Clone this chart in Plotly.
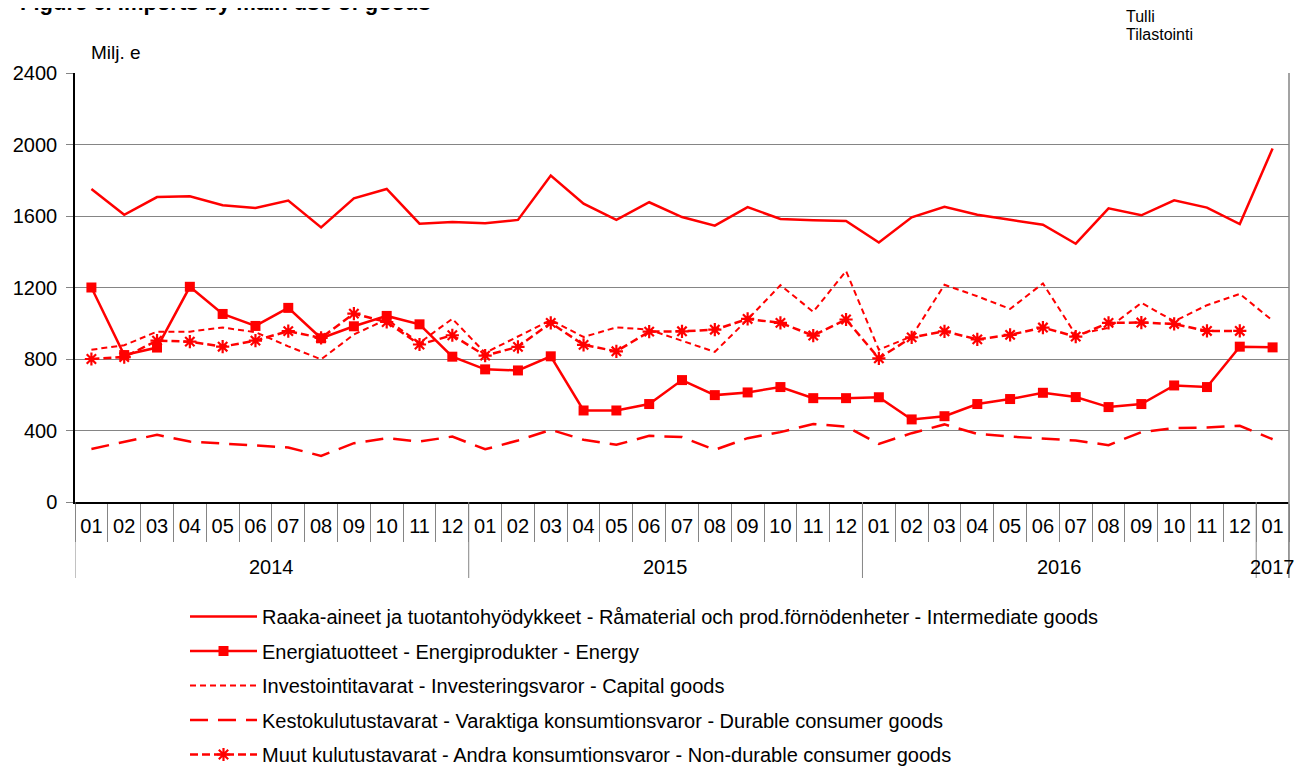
import plotly.graph_objects as go

years = ["2014"] * 12 + ["2015"] * 12 + ["2016"] * 12 + ["2017"]
months = ["01", "02", "03", "04", "05", "06", "07", "08", "09", "10", "11", "12",
          "01", "02", "03", "04", "05", "06", "07", "08", "09", "10", "11", "12",
          "01", "02", "03", "04", "05", "06", "07", "08", "09", "10", "11", "12",
          "01"]

intermediate = [1751, 1607, 1706, 1710, 1660, 1645, 1686, 1536, 1699, 1751, 1557, 1566,
                1559, 1578, 1826, 1669, 1579, 1677, 1594, 1546, 1650, 1583, 1576, 1572,
                1452, 1593, 1652, 1607, 1579, 1551, 1445, 1643, 1604, 1688, 1647, 1555,
                1978]
energy = [1200, 822, 864, 1204, 1052, 985, 1086, 916, 983, 1041, 994, 813,
          742, 736, 815, 512, 512, 548, 682, 598, 613, 643, 581, 581,
          586, 462, 480, 548, 576, 611, 587, 531, 548, 652, 643, 869,
          865]
capital = [852, 877, 953, 953, 976, 950, 871, 798, 937, 1022, 890, 1025,
           834, 925, 1018, 923, 977, 964, 900, 840, 1021, 1213, 1064, 1292,
           852, 927, 1215, 1151, 1080, 1223, 936, 974, 1114, 1011, 1101, 1164,
           1015]
durable = [297, 338, 376, 338, 329, 316, 305, 258, 329, 357, 338, 366,
           295, 344, 404, 348, 320, 370, 363, 292, 357, 391, 436, 422,
           325, 385, 434, 381, 366, 355, 344, 318, 391, 413, 417, 426,
           351]
nondurable = [800, 811, 903, 897, 869, 903, 956, 918, 1054, 1007, 881, 933,
              819, 868, 1002, 879, 843, 953, 955, 964, 1024, 1002, 931, 1021,
              804, 921, 955, 910, 935, 976, 925, 1002, 1004, 996, 957, 957,
              None]

names = [
    "Raaka-aineet ja tuotantohyödykkeet - Råmaterial och prod.förnödenheter - Intermediate goods",
    "Energiatuotteet - Energiprodukter - Energy",
    "Investointitavarat - Investeringsvaror - Capital goods",
    "Kestokulutustavarat - Varaktiga konsumtionsvaror - Durable consumer goods",
    "Muut kulutustavarat - Andra konsumtionsvaror - Non-durable consumer goods",
]
yticks = [0, 400, 800, 1200, 1600, 2000, 2400]

RED = "#ff0000"
GRAY = "#858585"
FONT = "Liberation Sans, Arial, sans-serif"

# page offset (browser body margin) compensation
OFF = 8
W, H = 1307 - OFF, 767 - OFF
PLOT_L, PLOT_R, PLOT_T, PLOT_B = 75, 1289, 73, 502   # target page pixels
PLOT_W = PLOT_R - PLOT_L
PLOT_H = PLOT_B - PLOT_T


def px_x(p):
    return (p - PLOT_L) / PLOT_W


def px_y(p):
    return (PLOT_B - p) / PLOT_H


# unique category keys (year-month), labelled by month
cats = [f"{y}-{m}" for y, m in zip(years, months)]

fig = go.Figure()
fig.add_trace(go.Scatter(x=cats, y=intermediate, name=names[0], mode="lines",
                         line=dict(color=RED, width=2.5), legendgroup="a"))
fig.add_trace(go.Scatter(x=cats, y=energy, name=names[1], mode="lines+markers",
                         line=dict(color=RED, width=2.5),
                         marker=dict(symbol="square", size=10, color=RED), legendgroup="b"))
fig.add_trace(go.Scatter(x=cats, y=capital, name=names[2], mode="lines",
                         line=dict(color=RED, width=2, dash="6px,4px"), legendgroup="c"))
fig.add_trace(go.Scatter(x=cats, y=durable, name=names[3], mode="lines",
                         line=dict(color=RED, width=2.5, dash="18px,10px"), legendgroup="d"))
fig.add_trace(go.Scatter(x=cats, y=nondurable, name=names[4], mode="lines+markers",
                         line=dict(color=RED, width=2.5, dash="8px,4px"),
                         marker=dict(symbol="asterisk-open", size=11,
                                     line=dict(color=RED, width=2.2)),
                         legendgroup="e"))

fig.update_layout(
    width=W, height=H,
    margin=dict(l=PLOT_L - OFF, r=OFF + W - PLOT_R, t=PLOT_T - OFF,
                b=OFF + H - PLOT_B, autoexpand=False),
    paper_bgcolor="white", plot_bgcolor="white",
    font=dict(family=FONT, size=20, color="black"),
    showlegend=True,
    legend=dict(x=px_x(185), xanchor="left", y=px_y(597), yanchor="top",
                font=dict(size=20), tracegroupgap=5.5, itemwidth=67,
                bgcolor="rgba(0,0,0,0)"),
    xaxis=dict(type="category", categoryorder="array", categoryarray=cats,
               tickmode="array", tickvals=cats, ticktext=months,
               tickson="boundaries", showline=True, linecolor="black", linewidth=1.5,
               ticks="outside", ticklen=38, tickcolor=GRAY, tickwidth=1,
               ticklabelstandoff=5,
               tickfont=dict(size=20), showgrid=False, range=[-0.5, len(cats) - 0.5],
               automargin=False),
    yaxis=dict(range=[0, 2400], tickvals=yticks, showline=True, linecolor="black",
               linewidth=1.5, ticks="outside", ticklen=7, tickcolor=GRAY,
               ticklabelstandoff=5,
               gridcolor=GRAY, gridwidth=1, tickfont=dict(size=20),
               zeroline=False, automargin=False),
)

# year group dividers and labels, derived from the years list
div_bottom = px_y(578)
bounds = [-0.5] + [i - 0.5 for i in range(1, len(years)) if years[i] != years[i - 1]] + [len(years) - 0.5]
for b in bounds:
    fig.add_shape(type="line", xref="x", yref="paper", x0=b, x1=b, y0=div_bottom, y1=0,
                  line=dict(color=GRAY, width=1))
for lo, hi in zip(bounds[:-1], bounds[1:]):
    fig.add_annotation(text=years[int(lo + 0.5)], xref="x", yref="paper",
                       x=(lo + hi) / 2, y=px_y(567),
                       xanchor="center", yanchor="middle", showarrow=False,
                       font=dict(size=20, family=FONT, color="black"))

# right border of the plot area
fig.add_shape(type="line", xref="x domain", yref="paper", x0=1, x1=1, y0=div_bottom, y1=1,
              line=dict(color=GRAY, width=1.5))

fig.add_annotation(text="<b>Figure 6. Imports by main use of goods</b>", xref="paper", yref="paper",
                   x=px_x(18), y=px_y(17), xanchor="left", yanchor="bottom",
                   showarrow=False, font=dict(size=22, family=FONT, color="black"))
fig.add_annotation(text="Milj. e", xref="paper", yref="paper", x=px_x(89), y=px_y(52),
                   xanchor="left", yanchor="middle", showarrow=False,
                   font=dict(size=19, family=FONT, color="black"))
fig.add_annotation(text="Tulli", xref="paper", yref="paper", x=px_x(1124), y=px_y(17),
                   xanchor="left", yanchor="middle", showarrow=False,
                   font=dict(size=16, family=FONT, color="black"))
fig.add_annotation(text="Tilastointi", xref="paper", yref="paper", x=px_x(1124), y=px_y(34),
                   xanchor="left", yanchor="middle", showarrow=False,
                   font=dict(size=16, family=FONT, color="black"))

fig.write_html("out.html")
